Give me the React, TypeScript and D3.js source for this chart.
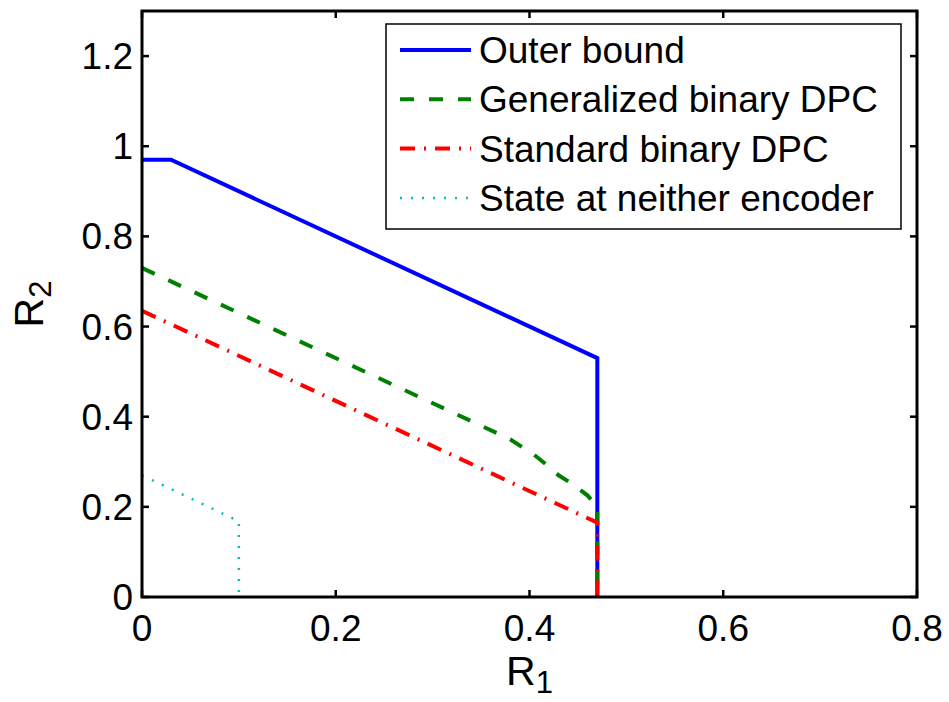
import React from 'react';
import * as d3 from 'd3';

// rate region curves
const outerBound: [number, number][] = [[0, 0.97], [0.03, 0.97], [0.47, 0.53], [0.47, 0]];
const generalizedDPC: [number, number][] = [
  [0, 0.73], [0.38, 0.35], [0.405, 0.315], [0.415, 0.298], [0.43, 0.27],
  [0.445, 0.25], [0.46, 0.225], [0.47, 0.2], [0.47, 0],
];
const standardDPC: [number, number][] = [[0, 0.635], [0.47, 0.165], [0.47, 0]];
const neitherEncoder: [number, number][] = [[0, 0.27], [0.1, 0.168], [0.1, 0]];

const xTicks = [0, 0.2, 0.4, 0.6, 0.8];
const yTicks = [0, 0.2, 0.4, 0.6, 0.8, 1, 1.2];
const xTickLabels = ['0', '0.2', '0.4', '0.6', '0.8'];
const yTickLabels = ['0', '0.2', '0.4', '0.6', '0.8', '1', '1.2'];

const seriesNames = ['Outer bound', 'Generalized binary DPC', 'Standard binary DPC', 'State at neither encoder'];
const seriesData = [outerBound, generalizedDPC, standardDPC, neitherEncoder];

const W = 949;
const H = 702;
const margin = {left: 142, right: 32, top: 11, bottom: 105};
const FONT = '"Liberation Sans", Arial, Helvetica, sans-serif';

const styles = [
  {color: '#0000ff', width: 4, dash: 'none'},
  {color: '#008000', width: 4, dash: '14 15'},
  {color: '#ff0000', width: 4, dash: '15 9 2 9'},
  {color: '#00bfbf', width: 2.5, dash: '2 9'},
];

const App = () => {
  const x = d3.scaleLinear().domain([0, 0.8]).range([margin.left, W - margin.right]);
  const y = d3.scaleLinear().domain([0, 1.3]).range([H - margin.bottom, margin.top]);
  const line = d3.line<[number, number]>().x(d => x(d[0])).y(d => y(d[1]));

  const x0 = x.range()[0], x1 = x.range()[1];
  const y0 = y.range()[0], y1 = y.range()[1];
  const tick = 7;

  // legend
  const lg = {left: 386, top: 24, right: 901, bottom: 229};
  const rowY = (i: number) => 50 + i * 49.3;

  return (
    <svg width={W} height={H} style={{position: 'absolute', left: 0, top: 0, background: '#fff'}}
         fontFamily={FONT}>
      <defs>
        <clipPath id="plot-clip">
          <rect x={x0} y={y1} width={x1 - x0} height={y0 - y1} />
        </clipPath>
      </defs>
      <rect x={0} y={0} width={W} height={H} fill="#fff" />

      <g clipPath="url(#plot-clip)">
        {seriesData.map((d, i) => (
          <path key={i} d={line(d) || ''} fill="none" stroke={styles[i].color}
                strokeWidth={styles[i].width} strokeDasharray={styles[i].dash}
                strokeLinejoin="miter" />
        ))}
      </g>

      {/* ticks, all four sides pointing inward */}
      <g stroke="#000" strokeWidth={2.5}>
        {xTicks.map((t, i) => (
          <g key={'xt' + i}>
            <line x1={x(t)} x2={x(t)} y1={y0} y2={y0 - tick} />
            <line x1={x(t)} x2={x(t)} y1={y1} y2={y1 + tick} />
          </g>
        ))}
        {yTicks.map((t, i) => (
          <g key={'yt' + i}>
            <line x1={x0} x2={x0 + tick} y1={y(t)} y2={y(t)} />
            <line x1={x1} x2={x1 - tick} y1={y(t)} y2={y(t)} />
          </g>
        ))}
      </g>
      <rect x={x0} y={y1} width={x1 - x0} height={y0 - y1} fill="none" stroke="#000" strokeWidth={3} />

      <g fontSize={37} fill="#000">
        {xTicks.map((t, i) => (
          <text key={'xl' + i} x={x(t)} y={y0 + 44} textAnchor="middle">{xTickLabels[i]}</text>
        ))}
        {yTicks.map((t, i) => (
          <text key={'yl' + i} x={x0 - 9} y={y(t) + 13} textAnchor="end">{yTickLabels[i]}</text>
        ))}
      </g>

      {/* axis titles */}
      <text x={(x0 + x1) / 2} y={685} textAnchor="middle" fontSize={41}>
        R<tspan fontSize={31} dy={8}>1</tspan>
      </text>
      <text transform={`translate(43,${(y0 + y1) / 2}) rotate(-90)`} textAnchor="middle" fontSize={41}>
        R<tspan fontSize={31} dy={8}>2</tspan>
      </text>

      {/* legend */}
      <rect x={lg.left} y={lg.top} width={lg.right - lg.left} height={lg.bottom - lg.top}
            fill="#fff" stroke="#000" strokeWidth={1.5} />
      {seriesNames.map((name, i) => (
        <g key={'lg' + i}>
          <line x1={400} x2={471} y1={rowY(i)} y2={rowY(i)} stroke={styles[i].color}
                strokeWidth={styles[i].width} strokeDasharray={styles[i].dash} />
          <text x={479} y={rowY(i) + 13} fontSize={37}>{name}</text>
        </g>
      ))}
    </svg>
  );
};

export default App;
